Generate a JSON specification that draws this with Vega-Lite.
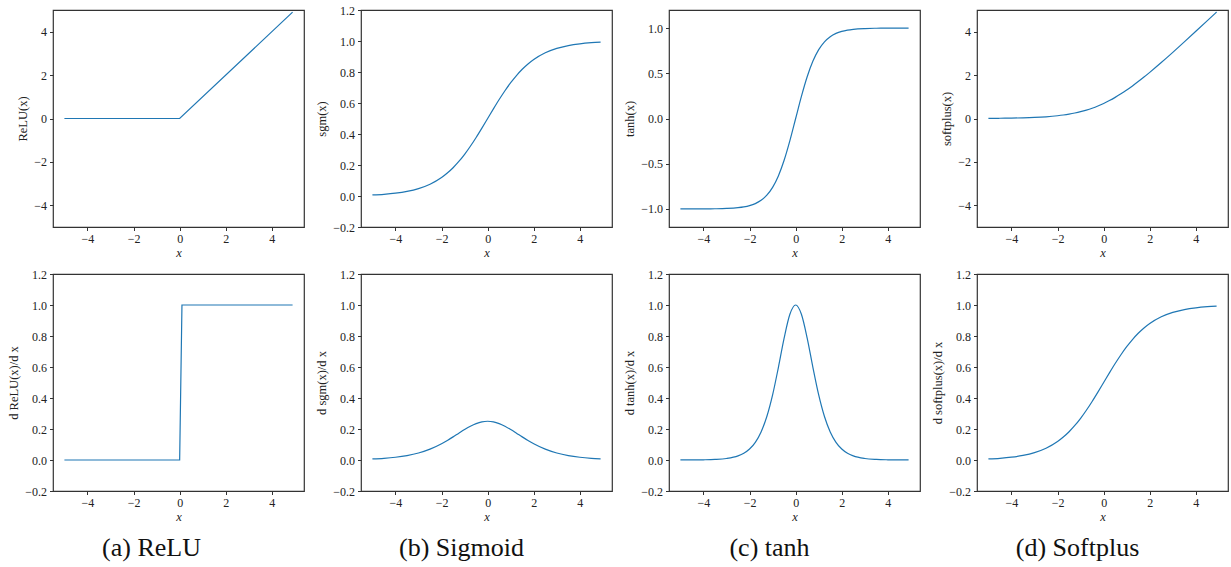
{
  "$schema": "https://vega.github.io/schema/vega-lite/v6.json",
  "padding": {"left": 7, "top": 3, "right": 2, "bottom": 4},
  "background": "white",
  "columns": 4,
  "spacing": {"row": 47, "column": 57},
  "bounds": "flush",
  "config": {
    "view": {"stroke": "#333", "strokeWidth": 1.2},
    "font": "Liberation Serif",
    "axis": {"labelFont": "Liberation Serif", "labelFontSize": 12, "titleFont": "Liberation Serif", "titleFontSize": 12.5, "titleFontWeight": "normal", "labelColor": "#222", "titleColor": "#222", "tickColor": "#333", "domain": false, "grid": false, "tickSize": 3.5, "labelPadding": 3, "titlePadding": 4},
    "axisX": {"titleFontStyle": "italic", "titlePadding": 2},
    "line": {"color": "#1f77b4", "strokeWidth": 1.2},
    "title": {"font": "Liberation Serif", "fontSize": 26, "fontWeight": "normal", "color": "#111"}
  },
  "datasets": {
    "relu": [{"x": -5, "y": 0}, {"x": 0, "y": 0}, {"x": 4.9, "y": 4.9}],
    "drelu": [{"x": -5, "y": 0}, {"x": 0, "y": 0}, {"x": 0.1, "y": 1}, {"x": 4.9, "y": 1}],
    "sig": [
      {"x": -5, "y": 0.006693}, {"x": -4.5, "y": 0.010987}, {"x": -4, "y": 0.017986}, {"x": -3.5, "y": 0.029312}, {"x": -3, "y": 0.047426}, {"x": -2.5, "y": 0.075858}, {"x": -2, "y": 0.119203}, {"x": -1.75, "y": 0.148047}, {"x": -1.5, "y": 0.182426}, {"x": -1.25, "y": 0.2227}, {"x": -1, "y": 0.268941}, {"x": -0.75, "y": 0.320821}, {"x": -0.5, "y": 0.377541}, {"x": -0.25, "y": 0.437823}, {"x": 0, "y": 0.5}, {"x": 0.25, "y": 0.562177}, {"x": 0.5, "y": 0.622459}, {"x": 0.75, "y": 0.679179}, {"x": 1, "y": 0.731059}, {"x": 1.25, "y": 0.7773}, {"x": 1.5, "y": 0.817574}, {"x": 1.75, "y": 0.851953}, {"x": 2, "y": 0.880797}, {"x": 2.5, "y": 0.924142}, {"x": 3, "y": 0.952574}, {"x": 3.5, "y": 0.970688}, {"x": 4, "y": 0.982014}, {"x": 4.5, "y": 0.989013}, {"x": 4.9, "y": 0.992608}
    ],
    "dsig": [
      {"x": -5, "y": 0.006648}, {"x": -4.5, "y": 0.010866}, {"x": -4, "y": 0.017663}, {"x": -3.5, "y": 0.028453}, {"x": -3, "y": 0.045177}, {"x": -2.5, "y": 0.070104}, {"x": -2, "y": 0.104994}, {"x": -1.75, "y": 0.126129}, {"x": -1.5, "y": 0.149146}, {"x": -1.25, "y": 0.173104}, {"x": -1, "y": 0.196612}, {"x": -0.75, "y": 0.217895}, {"x": -0.5, "y": 0.235004}, {"x": -0.25, "y": 0.246134}, {"x": 0, "y": 0.25}, {"x": 0.25, "y": 0.246134}, {"x": 0.5, "y": 0.235004}, {"x": 0.75, "y": 0.217895}, {"x": 1, "y": 0.196612}, {"x": 1.25, "y": 0.173104}, {"x": 1.5, "y": 0.149146}, {"x": 1.75, "y": 0.126129}, {"x": 2, "y": 0.104994}, {"x": 2.5, "y": 0.070104}, {"x": 3, "y": 0.045177}, {"x": 3.5, "y": 0.028453}, {"x": 4, "y": 0.017663}, {"x": 4.5, "y": 0.010866}, {"x": 4.9, "y": 0.007337}
    ],
    "tanh": [
      {"x": -5, "y": -0.999909}, {"x": -4.5, "y": -0.999753}, {"x": -4, "y": -0.999329}, {"x": -3.5, "y": -0.998178}, {"x": -3, "y": -0.995055}, {"x": -2.5, "y": -0.986614}, {"x": -2.25, "y": -0.978026}, {"x": -2, "y": -0.964028}, {"x": -1.75, "y": -0.941376}, {"x": -1.5, "y": -0.905148}, {"x": -1.25, "y": -0.848284}, {"x": -1, "y": -0.761594}, {"x": -0.75, "y": -0.635149}, {"x": -0.5, "y": -0.462117}, {"x": -0.25, "y": -0.244919}, {"x": 0, "y": 0}, {"x": 0.25, "y": 0.244919}, {"x": 0.5, "y": 0.462117}, {"x": 0.75, "y": 0.635149}, {"x": 1, "y": 0.761594}, {"x": 1.25, "y": 0.848284}, {"x": 1.5, "y": 0.905148}, {"x": 1.75, "y": 0.941376}, {"x": 2, "y": 0.964028}, {"x": 2.25, "y": 0.978026}, {"x": 2.5, "y": 0.986614}, {"x": 3, "y": 0.995055}, {"x": 3.5, "y": 0.998178}, {"x": 4, "y": 0.999329}, {"x": 4.5, "y": 0.999753}, {"x": 4.9, "y": 0.999889}
    ],
    "dtanh": [
      {"x": -5, "y": 0.000182}, {"x": -4.5, "y": 0.000494}, {"x": -4, "y": 0.001341}, {"x": -3.5, "y": 0.003641}, {"x": -3, "y": 0.009866}, {"x": -2.5, "y": 0.026592}, {"x": -2.25, "y": 0.043465}, {"x": -2, "y": 0.070651}, {"x": -1.75, "y": 0.113811}, {"x": -1.5, "y": 0.180707}, {"x": -1.25, "y": 0.280414}, {"x": -1, "y": 0.419974}, {"x": -0.75, "y": 0.596586}, {"x": -0.5, "y": 0.786448}, {"x": -0.25, "y": 0.940015}, {"x": 0, "y": 1}, {"x": 0.25, "y": 0.940015}, {"x": 0.5, "y": 0.786448}, {"x": 0.75, "y": 0.596586}, {"x": 1, "y": 0.419974}, {"x": 1.25, "y": 0.280414}, {"x": 1.5, "y": 0.180707}, {"x": 1.75, "y": 0.113811}, {"x": 2, "y": 0.070651}, {"x": 2.25, "y": 0.043465}, {"x": 2.5, "y": 0.026592}, {"x": 3, "y": 0.009866}, {"x": 3.5, "y": 0.003641}, {"x": 4, "y": 0.001341}, {"x": 4.5, "y": 0.000494}, {"x": 4.9, "y": 0.000222}
    ],
    "softplus": [
      {"x": -5, "y": 0.006715}, {"x": -4.5, "y": 0.011048}, {"x": -4, "y": 0.01815}, {"x": -3.5, "y": 0.02975}, {"x": -3, "y": 0.048587}, {"x": -2.5, "y": 0.078889}, {"x": -2, "y": 0.126928}, {"x": -1.75, "y": 0.160231}, {"x": -1.5, "y": 0.201413}, {"x": -1.25, "y": 0.251929}, {"x": -1, "y": 0.313262}, {"x": -0.75, "y": 0.386871}, {"x": -0.5, "y": 0.474077}, {"x": -0.25, "y": 0.576019}, {"x": 0, "y": 0.693147}, {"x": 0.25, "y": 0.826019}, {"x": 0.5, "y": 0.974077}, {"x": 0.75, "y": 1.136871}, {"x": 1, "y": 1.313262}, {"x": 1.25, "y": 1.501929}, {"x": 1.5, "y": 1.701413}, {"x": 1.75, "y": 1.910231}, {"x": 2, "y": 2.126928}, {"x": 2.5, "y": 2.578889}, {"x": 3, "y": 3.048587}, {"x": 3.5, "y": 3.52975}, {"x": 4, "y": 4.01815}, {"x": 4.5, "y": 4.511048}, {"x": 4.9, "y": 4.907419}
    ]
  },
  "concat": [
    {
      "width": 251, "height": 217,
      "data": {"name": "relu"},
      "mark": {"type": "line", "interpolate": "linear"},
      "encoding": {
        "x": {"field": "x", "type": "quantitative", "title": "x", "scale": {"domain": [-5.495, 5.395], "nice": false, "zero": false}, "axis": {"values": [-4, -2, 0, 2, 4], "format": "d"}},
        "y": {"field": "y", "type": "quantitative", "title": "ReLU(x)", "scale": {"domain": [-5, 5], "nice": false}, "axis": {"values": [-4, -2, 0, 2, 4], "format": "d"}}
      }
    },
    {
      "width": 251, "height": 217,
      "data": {"name": "sig"},
      "mark": {"type": "line", "interpolate": "monotone"},
      "encoding": {
        "x": {"field": "x", "type": "quantitative", "title": "x", "scale": {"domain": [-5.495, 5.395], "nice": false, "zero": false}, "axis": {"values": [-4, -2, 0, 2, 4], "format": "d"}},
        "y": {"field": "y", "type": "quantitative", "title": "sgm(x)", "scale": {"domain": [-0.2, 1.2], "nice": false}, "axis": {"values": [-0.2, 0, 0.2, 0.4, 0.6, 0.8, 1, 1.2], "format": ".1f"}}
      }
    },
    {
      "width": 251, "height": 217,
      "data": {"name": "tanh"},
      "mark": {"type": "line", "interpolate": "monotone"},
      "encoding": {
        "x": {"field": "x", "type": "quantitative", "title": "x", "scale": {"domain": [-5.495, 5.395], "nice": false, "zero": false}, "axis": {"values": [-4, -2, 0, 2, 4], "format": "d"}},
        "y": {"field": "y", "type": "quantitative", "title": "tanh(x)", "scale": {"domain": [-1.2, 1.2], "nice": false}, "axis": {"values": [-1, -0.5, 0, 0.5, 1], "format": ".1f"}}
      }
    },
    {
      "width": 251, "height": 217,
      "data": {"name": "softplus"},
      "mark": {"type": "line", "interpolate": "monotone"},
      "encoding": {
        "x": {"field": "x", "type": "quantitative", "title": "x", "scale": {"domain": [-5.495, 5.395], "nice": false, "zero": false}, "axis": {"values": [-4, -2, 0, 2, 4], "format": "d"}},
        "y": {"field": "y", "type": "quantitative", "title": "softplus(x)", "scale": {"domain": [-5, 5], "nice": false}, "axis": {"values": [-4, -2, 0, 2, 4], "format": "d"}}
      }
    },
    {
      "width": 251, "height": 217,
      "title": {"text": "(a) ReLU", "orient": "bottom", "anchor": "middle", "frame": "group", "offset": 12, "dx": -27},
      "data": {"name": "drelu"},
      "mark": {"type": "line", "interpolate": "linear"},
      "encoding": {
        "x": {"field": "x", "type": "quantitative", "title": "x", "scale": {"domain": [-5.495, 5.395], "nice": false, "zero": false}, "axis": {"values": [-4, -2, 0, 2, 4], "format": "d"}},
        "y": {"field": "y", "type": "quantitative", "title": "d ReLU(x)/d x", "scale": {"domain": [-0.2, 1.2], "nice": false}, "axis": {"values": [-0.2, 0, 0.2, 0.4, 0.6, 0.8, 1, 1.2], "format": ".1f"}}
      }
    },
    {
      "width": 251, "height": 217,
      "title": {"text": "(b) Sigmoid", "orient": "bottom", "anchor": "middle", "frame": "group", "offset": 12, "dx": -25},
      "data": {"name": "dsig"},
      "mark": {"type": "line", "interpolate": "monotone"},
      "encoding": {
        "x": {"field": "x", "type": "quantitative", "title": "x", "scale": {"domain": [-5.495, 5.395], "nice": false, "zero": false}, "axis": {"values": [-4, -2, 0, 2, 4], "format": "d"}},
        "y": {"field": "y", "type": "quantitative", "title": "d sgm(x)/d x", "scale": {"domain": [-0.2, 1.2], "nice": false}, "axis": {"values": [-0.2, 0, 0.2, 0.4, 0.6, 0.8, 1, 1.2], "format": ".1f"}}
      }
    },
    {
      "width": 251, "height": 217,
      "title": {"text": "(c) tanh", "orient": "bottom", "anchor": "middle", "frame": "group", "offset": 12, "dx": -25},
      "data": {"name": "dtanh"},
      "mark": {"type": "line", "interpolate": "monotone"},
      "encoding": {
        "x": {"field": "x", "type": "quantitative", "title": "x", "scale": {"domain": [-5.495, 5.395], "nice": false, "zero": false}, "axis": {"values": [-4, -2, 0, 2, 4], "format": "d"}},
        "y": {"field": "y", "type": "quantitative", "title": "d tanh(x)/d x", "scale": {"domain": [-0.2, 1.2], "nice": false}, "axis": {"values": [-0.2, 0, 0.2, 0.4, 0.6, 0.8, 1, 1.2], "format": ".1f"}}
      }
    },
    {
      "width": 251, "height": 217,
      "title": {"text": "(d) Softplus", "orient": "bottom", "anchor": "middle", "frame": "group", "offset": 12, "dx": -25},
      "data": {"name": "sig"},
      "mark": {"type": "line", "interpolate": "monotone"},
      "encoding": {
        "x": {"field": "x", "type": "quantitative", "title": "x", "scale": {"domain": [-5.495, 5.395], "nice": false, "zero": false}, "axis": {"values": [-4, -2, 0, 2, 4], "format": "d"}},
        "y": {"field": "y", "type": "quantitative", "title": "d softplus(x)/d x", "scale": {"domain": [-0.2, 1.2], "nice": false}, "axis": {"values": [-0.2, 0, 0.2, 0.4, 0.6, 0.8, 1, 1.2], "format": ".1f"}}
      }
    }
  ]
}
